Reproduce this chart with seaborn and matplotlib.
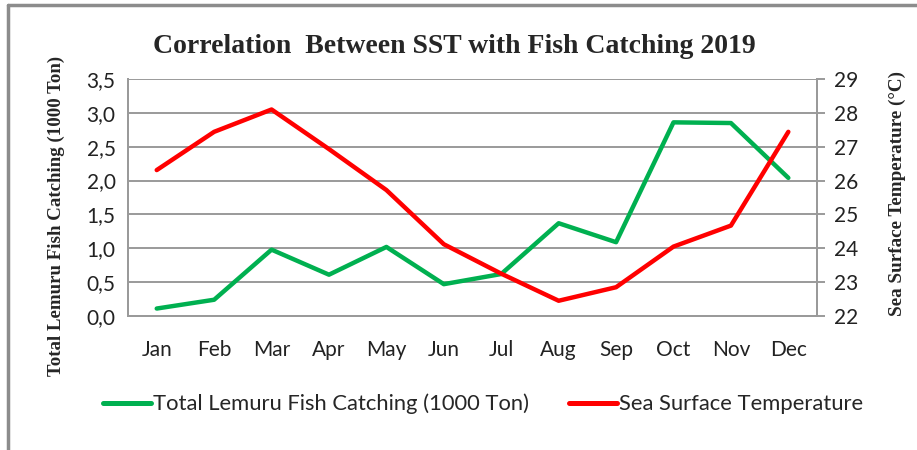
import numpy as np
import pandas as pd
import matplotlib.pyplot as plt
import seaborn as sns
from matplotlib.ticker import FuncFormatter
from matplotlib.lines import Line2D

# values
months = ['Jan', 'Feb', 'Mar', 'Apr', 'May', 'Jun', 'Jul', 'Aug', 'Sep', 'Oct', 'Nov', 'Dec']
fish_catch = [0.11, 0.24, 0.98, 0.61, 1.02, 0.47, 0.62, 1.37, 1.09, 2.86, 2.85, 2.04]
sst = [26.31, 27.44, 28.10, 26.93, 25.72, 24.12, 23.25, 22.45, 22.85, 24.05, 24.67, 27.44]

df = pd.DataFrame({'Month': months, 'Catch': fish_catch, 'SST': sst})

sns.set_style('white')
green = '#00B050'
red = '#FF0000'
grey = '#9A9A9A'
tick_font = 'Lato'
serif = 'Liberation Serif'

fig = plt.figure(figsize=(9.17, 4.5), dpi=100)
ax = fig.add_axes([0.1396, 0.2978, 0.7514, 0.5266])
ax2 = ax.twinx()

sns.lineplot(data=df, x='Month', y='Catch', ax=ax, color=green, linewidth=3.2, sort=False)
sns.lineplot(data=df, x='Month', y='SST', ax=ax2, color=red, linewidth=3.2, sort=False)

ax.set_xlim(-0.5, 11.5)
ax.set_ylim(0, 3.5)
ax.set_yticks(np.arange(0, 3.51, 0.5))
ax.yaxis.set_major_formatter(FuncFormatter(lambda v, p: f'{v:.1f}'.replace('.', ',')))
ax2.set_ylim(22, 29)
ax2.set_yticks(range(22, 30))

ax.grid(axis='y', color=grey, linewidth=1.4)
ax.set_axisbelow(True)
for a in (ax, ax2):
    for s in a.spines.values():
        s.set_color(grey)
        s.set_linewidth(1.4)
    a.spines['top'].set_visible(False)
    a.set_xlabel('')
    a.set_ylabel('')

ax.tick_params(axis='y', length=0, pad=9, labelsize=15, labelcolor='#222222')
ax.tick_params(axis='x', length=0, pad=17, labelsize=15, labelcolor='#222222')
ax2.tick_params(axis='y', length=6, width=1.4, color=grey, pad=6, labelsize=15, labelcolor='#222222')
for lbl in ax.get_xticklabels() + ax.get_yticklabels() + ax2.get_yticklabels():
    lbl.set_fontfamily(tick_font)

fig.text(0.495, 0.897, 'Correlation  Between SST with Fish Catching 2019',
         ha='center', va='center', fontsize=20, fontweight='bold', family=serif)
fig.text(0.061, 0.52, 'Total Lemuru Fish Catching (1000 Ton)', rotation=90,
         ha='center', va='center', fontsize=13.6, fontweight='bold', family=serif)
fig.text(0.979, 0.569, 'Sea Surface Temperature (\u00b0C)', rotation=90,
         ha='center', va='center', fontsize=13.8, fontweight='bold', family=serif)

handles = [Line2D([], [], color=green, linewidth=3.6),
           Line2D([], [], color=red, linewidth=3.6)]
fig.legend(handles, ['Total Lemuru Fish Catching (1000 Ton)', 'Sea Surface Temperature'],
           loc='center', bbox_to_anchor=(0.527, 0.102), ncol=2, frameon=False,
           handlelength=2.2, handletextpad=0.1, columnspacing=1.8,
           prop={'family': tick_font, 'size': 15.8})

# frame of the chart area as in the source document
fig.add_artist(Line2D([0.009, 0.009], [0.0, 0.989], color='#8C8C8C', linewidth=2.5))
fig.add_artist(Line2D([0.009, 1.0], [0.989, 0.989], color='#8C8C8C', linewidth=2.5))

fig.savefig('out.png', dpi=100)
